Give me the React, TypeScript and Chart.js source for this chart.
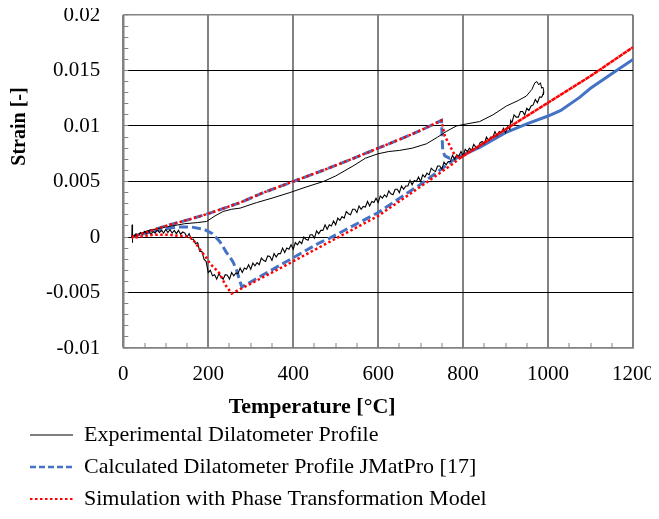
import React, { useEffect, useRef } from "react";
import { Chart, registerables } from "chart.js";

Chart.register(...registerables);

const FONT = "'Liberation Serif', 'Times New Roman', Times, serif";
const GRID_GRAY = "#828282";
const BLUE = "#4472C4";
const RED = "#FF0000";

// ---- axis ticks ----
const xTicks = [0, 50, 100, 150, 200, 250, 300, 350, 400, 450, 500, 550, 600, 650, 700, 750, 800, 850, 900, 950, 1000, 1050, 1100, 1150, 1200];
const xLabelTicks = [0, 200, 400, 600, 800, 1000, 1200];
const yTicks = [
  -0.01, -0.009, -0.008, -0.007, -0.006, -0.005, -0.004, -0.003, -0.002, -0.001,
  0, 0.001, 0.002, 0.003, 0.004, 0.005, 0.006, 0.007, 0.008, 0.009,
  0.01, 0.011, 0.012, 0.013, 0.014, 0.015, 0.016, 0.017, 0.018, 0.019, 0.02,
];
const yLabelTicks = [-0.01, -0.005, 0, 0.005, 0.01, 0.015, 0.02];

// ---- series labels ----
const seriesLabels = [
  "Experimental Dilatometer Profile",
  "Calculated Dilatometer Profile JMatPro [17]",
  "Simulation with Phase Transformation Model",
];

// ---- experimental: heating branch (°C, strain) ----
const expHeatT = [
  20, 21, 21.5, 22, 40, 60, 100, 145, 175, 196,
  216, 235, 255, 275, 314, 350, 392, 430, 471, 500,
  541, 570, 600, 625, 650, 680, 714, 740, 760, 784,
  810, 839, 870, 902, 930, 949, 962, 969, 974, 978,
  982, 985, 988, 990, 989,
];
const expHeatStrain = [
  0, 0.0011, -0.0005, 0, 0.0003, 0.0006, 0.0009, 0.0012, 0.0013, 0.0014,
  0.0019, 0.0023, 0.0025, 0.0026, 0.0031, 0.0035, 0.0040, 0.0045, 0.0050, 0.0055,
  0.0064, 0.0071, 0.0075, 0.0077, 0.0078, 0.0080, 0.0084, 0.0090, 0.0095, 0.0100,
  0.0102, 0.0104, 0.0110, 0.0118, 0.0123, 0.0127, 0.0133, 0.0139, 0.0140, 0.0137,
  0.0139, 0.0134, 0.0135, 0.0131, 0.0128,
];

// ---- experimental: cooling branch (noisy), [°C, strain] ----
const expCooling: [number, number][] = [
  [990, 0.0130], [985, 0.0126], [980, 0.0126], [975, 0.0121], [970, 0.0124], [965, 0.0119], [960, 0.0118], [955, 0.0114], [950, 0.0116], [945, 0.0110],
  [940, 0.0113], [935, 0.0113], [930, 0.0108], [925, 0.0108], [920, 0.0110], [915, 0.0103], [912, 0.0105], [910, 0.0097], [905, 0.00995], [900, 0.0094],
  [895, 0.0098], [890, 0.0094], [885, 0.0095], [880, 0.0091], [875, 0.0095], [870, 0.0090], [865, 0.0090], [860, 0.0087], [855, 0.0090], [850, 0.0084],
  [845, 0.0086], [840, 0.0085], [835, 0.0080], [830, 0.0081], [825, 0.00835], [820, 0.0078], [815, 0.0080], [810, 0.0077], [805, 0.0079], [800, 0.0073],
  [795, 0.0077], [790, 0.0073], [785, 0.0074], [780, 0.0070], [775, 0.00735], [770, 0.0068], [765, 0.0068], [760, 0.0065], [755, 0.00675], [750, 0.0061],
  [745, 0.0064], [740, 0.0064], [735, 0.0059], [730, 0.0060], [725, 0.0062], [720, 0.0056], [715, 0.00575], [710, 0.0054], [705, 0.0056], [700, 0.0050],
  [695, 0.0054], [690, 0.0050], [685, 0.0051], [680, 0.0047], [675, 0.0051], [670, 0.0046], [665, 0.0046], [660, 0.0043], [655, 0.0046], [650, 0.0040],
  [645, 0.0043], [640, 0.0043], [635, 0.0038], [630, 0.0039], [625, 0.00415], [620, 0.0036], [615, 0.0038], [610, 0.0035], [605, 0.0037], [600, 0.0031],
  [595, 0.0035], [590, 0.0031], [585, 0.0032], [580, 0.0028], [575, 0.0032], [570, 0.0027], [565, 0.00275], [560, 0.0025], [555, 0.0028], [550, 0.0022],
  [545, 0.0025], [540, 0.0025], [535, 0.0020], [530, 0.0021], [525, 0.0023], [520, 0.0017], [515, 0.00185], [510, 0.0015], [505, 0.0017], [500, 0.0011],
  [495, 0.00145], [490, 0.0010], [485, 0.0011], [480, 0.0007], [475, 0.0011], [470, 0.0006], [465, 0.0006], [460, 0.0003], [455, 0.00055], [450, -0.0001],
  [445, 0.0002], [440, 0.0002], [435, -0.0003], [430, -0.0002], [425, 0.0000], [420, -0.0006], [415, -0.0004], [410, -0.0007], [405, -0.0005], [400, -0.0011],
  [395, -0.0007], [390, -0.0011], [385, -0.0010], [380, -0.0014], [375, -0.0010], [370, -0.0015], [365, -0.0015], [360, -0.0018], [355, -0.0015], [350, -0.0021],
  [345, -0.00175], [340, -0.0017], [335, -0.0022], [330, -0.0021], [325, -0.0019], [320, -0.0025], [315, -0.0023], [310, -0.0026], [305, -0.00235], [300, -0.0029],
  [295, -0.0025], [290, -0.0029], [285, -0.0028], [280, -0.0032], [275, -0.0028], [270, -0.0033], [265, -0.00325], [260, -0.0035], [255, -0.0032], [250, -0.0038],
  [245, -0.00345], [240, -0.0034], [235, -0.0038], [230, -0.0036], [225, -0.0033], [220, -0.0038], [215, -0.0034], [210, -0.0035], [205, -0.0030], [200, -0.0032],
  [195, -0.0022], [190, -0.0020], [185, -0.0013], [180, -0.0013], [175, -0.0005], [170, -0.0006], [165, -0.0002], [160, -0.0002], [155, 0.0003], [150, 0.0000],
  [145, 0.00035], [140, 0.00045], [135, 0.00025], [130, 0.0006], [125, 0.0003], [120, 0.0006], [115, 0.00035], [110, 0.00065], [105, 0.0004], [100, 0.0007],
  [95, 0.00035], [90, 0.0006], [85, 0.0004], [80, 0.0007], [75, 0.00035], [70, 0.0005], [65, 0.00025], [60, 0.00055], [55, 0.0003], [50, 0.0005],
  [45, 0.00025], [40, 0.0004], [35, 0.00015], [30, 0.0003], [25, 0.0001], [20, 0.0000],
];

// ---- JMatPro calculated profile ----
const jmatT = [
  20, 100, 157, 200, 275, 330, 400, 463, 530, 600,
  651, 700, 749, 750, 752, 757, 768, 784, 840, 900,
  950, 1000, 1030, 1075, 1100, 1150, 1200, 1150, 1100, 1075,
  1030, 1000, 950, 900, 840, 784, 776, 706, 600, 486,
  463, 380, 279, 273, 267, 259, 251, 243, 235, 227,
  210, 190, 160, 125, 80, 40, 20,
];
const jmatStrain = [
  0, 0.0010, 0.0016, 0.0021, 0.0031, 0.0040, 0.0050, 0.0059, 0.0069, 0.0080,
  0.0088, 0.0096, 0.0105, 0.0096, 0.0078, 0.0073, 0.0071, 0.0071, 0.0081, 0.0094,
  0.0102, 0.0109, 0.0114, 0.0126, 0.0134, 0.0147, 0.0160, 0.0147, 0.0134, 0.0126,
  0.0114, 0.0109, 0.0102, 0.0094, 0.0081, 0.0071, 0.0069, 0.0049, 0.0022, -0.0001,
  -0.0005, -0.0023, -0.0045, -0.0038, -0.0030, -0.0023, -0.0018, -0.0014, -0.0009, -0.0004,
  0.0003, 0.0007, 0.0009, 0.0009, 0.0006, 0.0002, 0,
];

// ---- simulation with phase transformation model ----
const simT = [
  20, 100, 157, 200, 275, 330, 400, 463, 530, 600,
  651, 700, 749, 757, 769, 780, 792, 850, 900, 1000,
  1100, 1200, 1100, 1000, 900, 850, 792, 776, 706, 600,
  463, 380, 300, 255, 240, 227, 215, 204, 196, 188,
  180, 173, 165, 157, 140, 129, 110, 90, 70, 51,
  35, 20,
];
const simStrain = [
  0, 0.0010, 0.0016, 0.0021, 0.0031, 0.0040, 0.0050, 0.0059, 0.0069, 0.0080,
  0.0088, 0.0096, 0.0105, 0.0091, 0.0082, 0.0074, 0.0071, 0.0085, 0.0097, 0.0121,
  0.0145, 0.0171, 0.0145, 0.0121, 0.0097, 0.0085, 0.0071, 0.0066, 0.0047, 0.0019,
  -0.0009, -0.0026, -0.0042, -0.0051, -0.0043, -0.0033, -0.0028, -0.0024, -0.0019, -0.0015,
  -0.0011, -0.0007, -0.0003, 0.0000, 0.0001, 0.0001, 0.0002, 0.0002, 0.0002, 0.0001,
  0.0000, -0.0001,
];

// legend sample dash patterns (dataset index -> dash)
const legendDash: Record<number, number[]> = { 0: [], 1: [6, 3], 2: [2.5, 2.5] };
const legendWidth: Record<number, number> = { 0: 1, 1: 2.5, 2: 2.2 };

const toXY = (xs: number[], ys: number[]) => xs.map((x, i) => ({ x, y: ys[i] }));
const isMajorX = (v: number) => xLabelTicks.some((m) => Math.abs(m - v) < 1e-6);
const majorY = (v: number) => yLabelTicks.find((m) => Math.abs(m - v) < 1e-9);

export default function App() {
  const canvasRef = useRef<HTMLCanvasElement | null>(null);

  useEffect(() => {
    if (!canvasRef.current) return;
    Chart.defaults.font.family = FONT;
    Chart.defaults.color = "#000";
    const defaultGen = (Chart.defaults as any).plugins.legend.labels.generateLabels;

    const chart = new Chart(canvasRef.current, {
      type: "scatter",
      data: {
        datasets: [
          {
            label: seriesLabels[0],
            data: toXY(expHeatT, expHeatStrain),
            showLine: true,
            borderColor: "#000",
            backgroundColor: "#000",
            borderWidth: 1,
            pointRadius: 0,
            order: 1,
          },
          {
            label: seriesLabels[1],
            data: toXY(jmatT, jmatStrain),
            showLine: true,
            borderColor: BLUE,
            backgroundColor: BLUE,
            borderWidth: 3,
            borderDash: [9, 4],
            pointRadius: 0,
            order: 2,
            segment: {
              borderDash: (c: any) =>
                c.p0.parsed.x >= 784 && c.p1.parsed.x >= 784 ? [] : undefined,
            },
          },
          {
            label: seriesLabels[2],
            data: toXY(simT, simStrain),
            showLine: true,
            borderColor: RED,
            backgroundColor: RED,
            borderWidth: 2.5,
            borderDash: [2.5, 2.5],
            pointRadius: 0,
            order: 0,
          },
          {
            label: "",
            data: expCooling.map(([x, y]) => ({ x, y })),
            showLine: true,
            borderColor: "#000",
            backgroundColor: "#000",
            borderWidth: 1.1,
            pointRadius: 0,
            order: 1,
          },
        ],
      },
      options: {
        animation: false,
        responsive: true,
        maintainAspectRatio: false,
        devicePixelRatio: 1,
        layout: { padding: { left: 12, right: 26, top: 7, bottom: -9 } },
        plugins: {
          tooltip: { enabled: false },
          legend: {
            position: "bottom",
            align: "start",
            labels: {
              usePointStyle: true,
              pointStyle: "line",
              pointStyleWidth: 43,
              padding: 10,
              color: "#000",
              font: { family: FONT, size: 22 },
              generateLabels: (ch: any) =>
                defaultGen(ch).map((it: any) => {
                  const ds = ch.data.datasets[it.datasetIndex];
                  return {
                    ...it,
                    lineDash: legendDash[it.datasetIndex] ?? [],
                    lineWidth: legendWidth[it.datasetIndex] ?? ds.borderWidth,
                    strokeStyle: ds.borderColor,
                    fillStyle: ds.borderColor,
                  };
                }),
              filter: (item: any) => item.text !== "",
              sort: (a: any, b: any) => a.datasetIndex - b.datasetIndex,
            },
          },
        },
        scales: {
          x: {
            type: "linear",
            min: 0,
            max: 1200,
            afterBuildTicks: (s: any) => {
              s.ticks = xTicks.map((v) => ({ value: v }));
            },
            afterFit: (s: any) => {
              s.height = 66;
              s.paddingLeft = 0;
              s.paddingRight = 0;
            },
            ticks: {
              autoSkip: false,
              maxRotation: 0,
              minRotation: 0,
              padding: 19,
              color: "#000",
              font: { family: FONT, size: 21 },
              callback: (v: any) => (isMajorX(Number(v)) ? String(v) : ""),
            },
            grid: {
              color: (c: any) => (c.tick && isMajorX(c.tick.value) ? GRID_GRAY : "rgba(0,0,0,0)"),
              lineWidth: 2,
              drawTicks: true,
              tickLength: -5,
              tickColor: GRID_GRAY,
              tickWidth: 1,
            },
            border: { display: true, color: GRID_GRAY, width: 1.5 },
            title: {
              display: true,
              text: "Temperature [°C]" + " ".repeat(24),
              color: "#000",
              font: { family: FONT, size: 22, weight: "bold" },
              padding: { top: 0, bottom: -7 },
            },
          },
          y: {
            type: "linear",
            min: -0.01,
            max: 0.02,
            afterBuildTicks: (s: any) => {
              s.ticks = yTicks.map((v) => ({ value: v }));
            },
            afterFit: (s: any) => {
              s.width = 103.3;
              s.paddingTop = 0;
              s.paddingBottom = 0;
            },
            ticks: {
              autoSkip: false,
              padding: 28,
              color: "#000",
              font: { family: FONT, size: 21 },
              callback: (v: any) => {
                const m = majorY(Number(v));
                return m === undefined ? "" : String(m);
              },
            },
            grid: {
              color: (c: any) => {
                if (!c.tick) return "rgba(0,0,0,0)";
                const m = majorY(c.tick.value);
                if (m === undefined) return "rgba(0,0,0,0)";
                if (m === -0.01 || m === 0.02) return GRID_GRAY;
                return "#000";
              },
              lineWidth: (c: any) => {
                const m = c.tick ? majorY(c.tick.value) : undefined;
                return m === -0.01 || m === 0.02 ? 1.5 : 1;
              },
              drawTicks: true,
              tickLength: -5,
              tickColor: GRID_GRAY,
              tickWidth: 1,
            },
            border: { display: true, color: GRID_GRAY, width: 1.5 },
            title: {
              display: true,
              text: " ".repeat(22) + "Strain [-]",
              color: "#000",
              font: { family: FONT, size: 20, weight: "bold" },
              padding: { top: -12, bottom: 0 },
            },
          },
        },
      } as any,
    });
    return () => chart.destroy();
  }, []);

  return (
    <div style={{ position: "relative", width: 651, height: 503 }}>
      <canvas ref={canvasRef} />
    </div>
  );
}
